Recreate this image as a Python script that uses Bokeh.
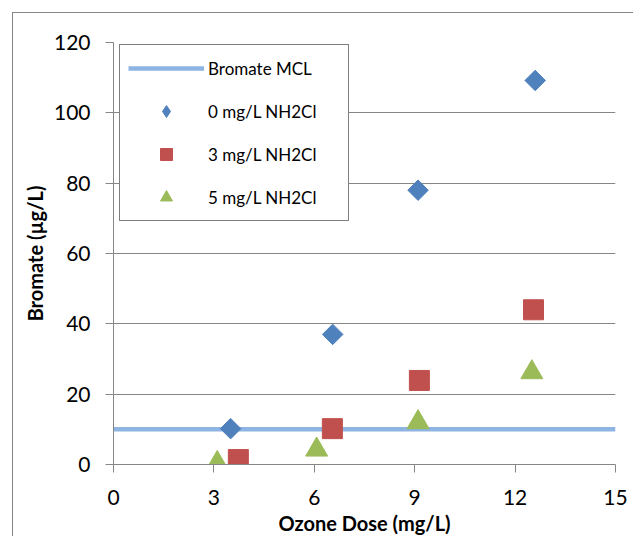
from bokeh.embed import file_html
from bokeh.models import Range1d, FixedTicker, Legend, LegendItem
from bokeh.plotting import figure
from bokeh.resources import INLINE
import numpy as np

# Bromate MCL reference line (10 ug/L)
mcl_x = [0, 15]
mcl_y = [10, 10]

# ozone dose (mg/L) and bromate (ug/L) for each monochloramine dose
dose_0 = [3.5, 6.55, 9.1, 12.6]
bromate_0 = [10.2, 37.0, 78.0, 109.2]

dose_3 = [3.73, 6.54, 9.14, 12.55]
bromate_3 = [1.4, 10.2, 23.9, 44.0]

dose_5 = [3.1, 6.07, 9.1, 12.5]
bromate_5 = [0.4, 4.2, 12.0, 26.2]

x_ticks = [0, 3, 6, 9, 12, 15]
y_ticks = [0, 20, 40, 60, 80, 100, 120]

FONT = "Lato"
GRAY = "#868686"

p = figure(width=621, height=524,
           x_range=Range1d(0, 15), y_range=Range1d(0, 120),
           output_backend="svg", toolbar_location=None,
           min_border_left=100, min_border_right=19,
           min_border_top=29, min_border_bottom=73,
           background_fill_color="white", border_fill_color="white")
p.outline_line_color = None
# chart area border (only its top and left edges fall inside the window)
p.margin = (12, 0, 0, 12)
p.styles = {"border-left": "1px solid " + GRAY, "border-top": "1px solid " + GRAY}

# axes
p.xaxis.ticker = FixedTicker(ticks=x_ticks)
p.yaxis.ticker = FixedTicker(ticks=y_ticks)
for ax in (p.xaxis, p.yaxis):
    ax.axis_line_color = GRAY
    ax.major_tick_line_color = GRAY
    ax.major_tick_out = 8
    ax.major_tick_in = 0
    ax.minor_tick_line_color = None
    ax.major_label_text_font = FONT
    ax.major_label_text_font_size = "21px"
    ax.major_label_text_color = "black"
    ax.axis_label_text_font = FONT
    ax.axis_label_text_font_size = "20px"
    ax.axis_label_text_font_style = "bold"
    ax.axis_label_text_color = "black"
p.yaxis.major_label_standoff = 15
p.xaxis.major_label_standoff = 17
p.yaxis.axis_label_standoff = 4
p.xaxis.axis_label_standoff = 3
p.xaxis.axis_label = "Ozone Dose (mg/L)"
p.yaxis.axis_label = "Bromate (µg/L)"

p.xgrid.grid_line_color = None
p.ygrid.grid_line_color = GRAY
p.ygrid.ticker = FixedTicker(ticks=y_ticks)

# series
r_mcl = p.line(mcl_x, mcl_y, line_color="#8DB4E2", line_width=4.5)
# legend swatch for the diamonds: a small diamond hidden under each rotated square
# (a rotated square is drawn unrotated in the legend)
r_0_key = p.scatter(dose_0, bromate_0, marker="diamond", size=13,
                    fill_color="#4F81BD", line_color="#4F81BD")
p.scatter(dose_0, bromate_0, marker="square", angle=np.pi / 4, size=14.5,
          fill_color="#4F81BD", line_color="#4F81BD")
r_3 = p.scatter(dose_3, bromate_3, marker="square", size=20,
                fill_color="#C0504D", line_color="#C0504D")
r_5 = p.scatter(dose_5, bromate_5, marker="triangle", size=22,
                fill_color="#9BBB59", line_color="#9BBB59")

legend = Legend(items=[
    LegendItem(label="Bromate MCL", renderers=[r_mcl]),
    LegendItem(label="0 mg/L NH2Cl", renderers=[r_0_key]),
    LegendItem(label="3 mg/L NH2Cl", renderers=[r_3]),
    LegendItem(label="5 mg/L NH2Cl", renderers=[r_5]),
])
legend.location = (6, 243)
legend.border_line_color = "black"
legend.border_line_width = 1
legend.background_fill_color = "white"
legend.background_fill_alpha = 1
legend.padding = 8
legend.spacing = 13
legend.glyph_height = 30
legend.glyph_width = 76
legend.label_height = 30
legend.label_standoff = 4
legend.label_width = 132
legend.label_text_font = FONT
legend.label_text_font_size = "17px"
legend.label_text_color = "black"
p.add_layout(legend)

open("out.html", "w").write(file_html(p, INLINE))
